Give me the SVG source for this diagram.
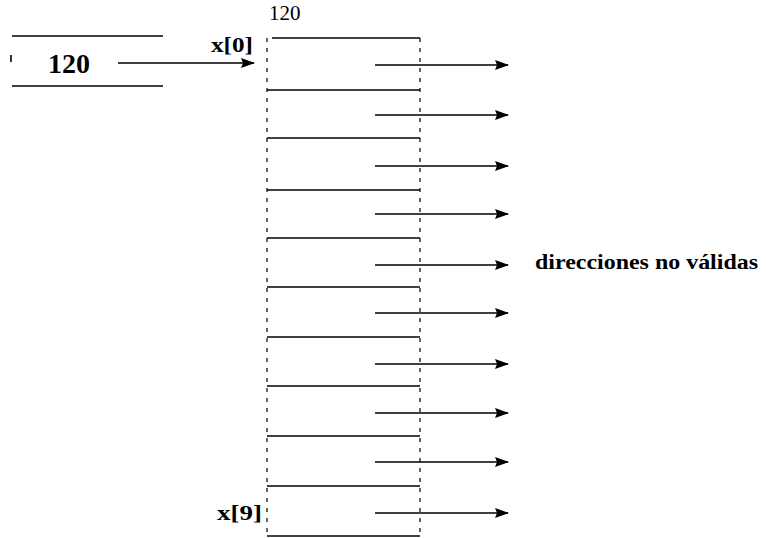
<svg xmlns="http://www.w3.org/2000/svg" width="766" height="538" viewBox="0 0 766 538">
<style>
.ln{stroke:#000;stroke-width:1.6;fill:none}
.dash{stroke:#000;stroke-width:1.2;fill:none;stroke-dasharray:4 6}
.ar{stroke:#000;stroke-width:1.6;fill:none;marker-end:url(#ah)}
.t{font-family:"Liberation Serif","Times New Roman",serif;fill:#000}
.b{font-weight:bold}
</style>
<defs>
<marker id="ah" viewBox="0 0 14 10" refX="13" refY="5" markerWidth="14" markerHeight="10" markerUnits="userSpaceOnUse" orient="auto">
<path d="M0,0 L14,5 L0,10 L2,5 Z" fill="#000"/>
</marker>
</defs>
<rect width="766" height="538" fill="#fff"/>
<g id="pointer">
<line class="ln" x1="12" y1="36" x2="163" y2="36"/>
<line class="ln" x1="12" y1="86" x2="163" y2="86"/>
<line class="ln" x1="11" y1="55" x2="11" y2="62"/>
<text class="t b" x="48" y="73" font-size="28">120</text>
</g>
<g id="array">
<text class="t" x="269" y="20" font-size="21">120</text>
<line class="dash" x1="267" y1="38" x2="267" y2="536"/>
<line class="dash" x1="420" y1="38" x2="420" y2="536"/>
<line class="ln" x1="272" y1="38" x2="420" y2="38"/>
<line class="ln" x1="267" y1="90" x2="420" y2="90"/>
<line class="ln" x1="267" y1="138" x2="420" y2="138"/>
<line class="ln" x1="267" y1="190" x2="420" y2="190"/>
<line class="ln" x1="267" y1="238" x2="420" y2="238"/>
<line class="ln" x1="267" y1="287" x2="420" y2="287"/>
<line class="ln" x1="267" y1="337" x2="420" y2="337"/>
<line class="ln" x1="267" y1="386" x2="420" y2="386"/>
<line class="ln" x1="267" y1="436" x2="420" y2="436"/>
<line class="ln" x1="267" y1="486" x2="420" y2="486"/>
<line class="ln" x1="267" y1="536" x2="420" y2="536"/>
</g>
<g id="label-x0"><text class="t b" x="211" y="52" font-size="22" textLength="42" lengthAdjust="spacingAndGlyphs">x[0]</text></g>
<g id="label-x9"><text class="t b" x="217" y="520" font-size="22" textLength="45" lengthAdjust="spacingAndGlyphs">x[9]</text></g>
<g id="label-invalid"><text class="t b" x="535" y="269" font-size="20" textLength="223" lengthAdjust="spacingAndGlyphs">direcciones no válidas</text></g>
<g id="connectors">
<line class="ar" x1="118" y1="63" x2="254" y2="63"/>
<line class="ar" x1="375" y1="65" x2="508" y2="65"/>
<line class="ar" x1="375" y1="115" x2="508" y2="115"/>
<line class="ar" x1="375" y1="166" x2="508" y2="166"/>
<line class="ar" x1="375" y1="214" x2="508" y2="214"/>
<line class="ar" x1="375" y1="265" x2="508" y2="265"/>
<line class="ar" x1="375" y1="313" x2="508" y2="313"/>
<line class="ar" x1="375" y1="364" x2="508" y2="364"/>
<line class="ar" x1="375" y1="413" x2="508" y2="413"/>
<line class="ar" x1="375" y1="462" x2="508" y2="462"/>
<line class="ar" x1="375" y1="513" x2="508" y2="513"/>
</g>
</svg>
